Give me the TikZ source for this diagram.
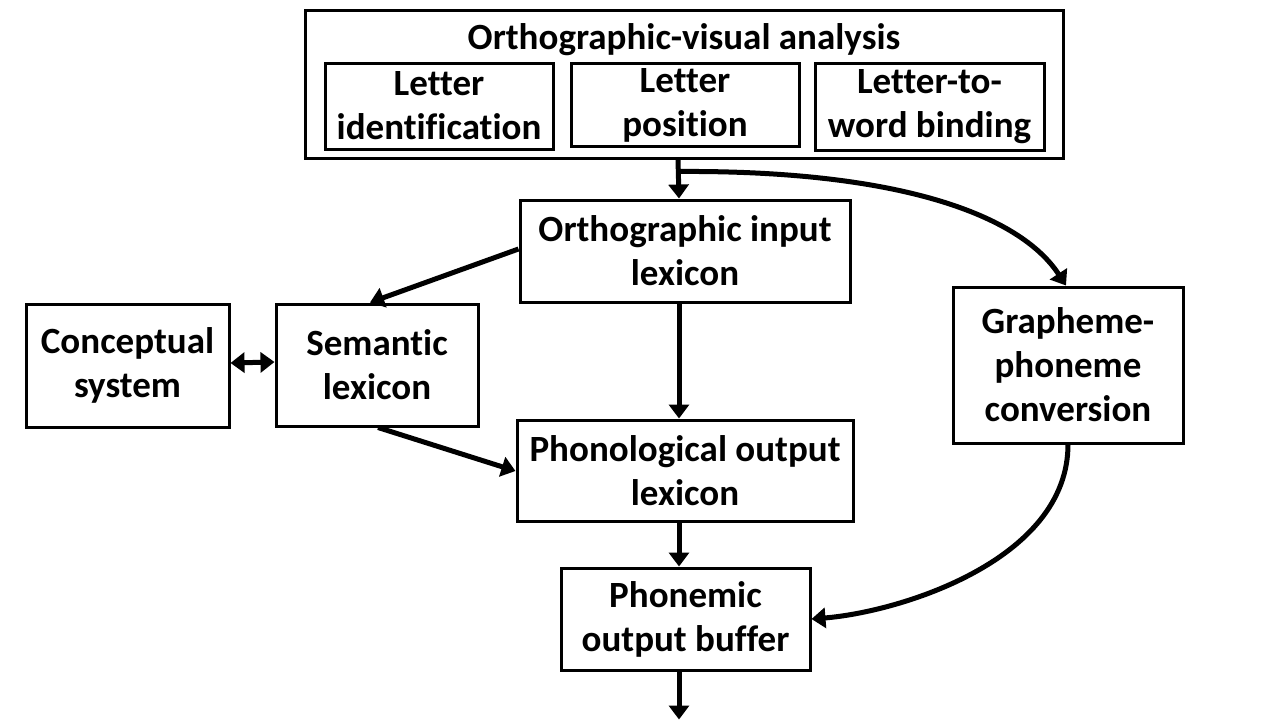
\documentclass[tikz,border=0pt]{standalone}
\usepackage{fontspec}
\setmainfont[Ligatures=NoCommon]{Carlito}
\usetikzlibrary{arrows.meta}
\begin{document}
\begin{tikzpicture}[x=1pt,y=-1pt,
  box/.style={draw,line width=3pt,inner sep=0pt,align=center,
    font=\bfseries\fontsize{37}{44}\selectfont},
  lbl/.style={inner sep=0pt,font=\bfseries\fontsize{37}{44}\selectfont},
  conn/.style={line width=5pt,-{Triangle[length=14pt,width=20pt]}},
  dconn/.style={line width=5pt,{Triangle[length=14pt,width=20pt]}-{Triangle[length=14pt,width=20pt]}}]
\useasboundingbox (0,0) rectangle (1280,720);
\node[box,minimum width=758pt,minimum height=148pt] (top) at (684,84) {};
\node[lbl] (title) at (684,40) {Orthographic-visual analysis};
\node[box,minimum width=228pt,minimum height=86pt] (lid) at (439,106) {Letter\\identification};
\node[box,minimum width=228pt,minimum height=83pt] (lpos) at (685,105) {Letter\\position};
\node[box,minimum width=229pt,minimum height=87pt] (lwb) at (929.5,106.5) {Letter-to-\\word binding};
\node[box,minimum width=330pt,minimum height=102pt] (oil) at (685,251) {Orthographic input\\lexicon};
\node[box,minimum width=203pt,minimum height=123pt] (cs) at (127.5,365.5) {Conceptual\\system};
\node[box,minimum width=202pt,minimum height=122pt] (sl) at (377,365) {Semantic\\lexicon};
\node[box,minimum width=230pt,minimum height=156pt] (gpc) at (1068,365) {Grapheme-\\phoneme\\conversion};
\node[box,minimum width=336pt,minimum height=101pt] (pol) at (685,470.5) {Phonological output\\lexicon};
\node[box,minimum width=249pt,minimum height=102pt] (pob) at (685.5,619) {Phonemic\\output buffer};
\coordinate (split) at ([xshift=-6pt,yshift=-12pt]top.south);
\coordinate (out) at ([xshift=-6.5pt,yshift=-48pt]pob.south);
\draw[conn] ([xshift=-6pt]top.south) -- ([xshift=-6pt]oil.north);
\draw[conn] (split) .. controls (900,170) and (1020,215) .. ([xshift=-2pt]gpc.north);
\draw[conn] ([yshift=2pt]oil.west) -- ([xshift=-7pt]sl.north);
\draw[conn] ([xshift=-6pt]oil.south) -- ([xshift=-6pt]pol.north);
\draw[conn] ([xshift=1pt]sl.south) -- ([yshift=-0.5pt]pol.west);
\draw[dconn] ([yshift=2.5pt]cs.east) -- ([yshift=3pt]sl.west);
\draw[conn] ([xshift=-6pt]pol.south) -- ([xshift=-6.5pt]pob.north);
\draw[conn] (gpc.south) .. controls (1068,560) and (900,612) .. (pob.east);
\draw[conn] ([xshift=-6.5pt]pob.south) -- (out);
\end{tikzpicture}
\end{document}
